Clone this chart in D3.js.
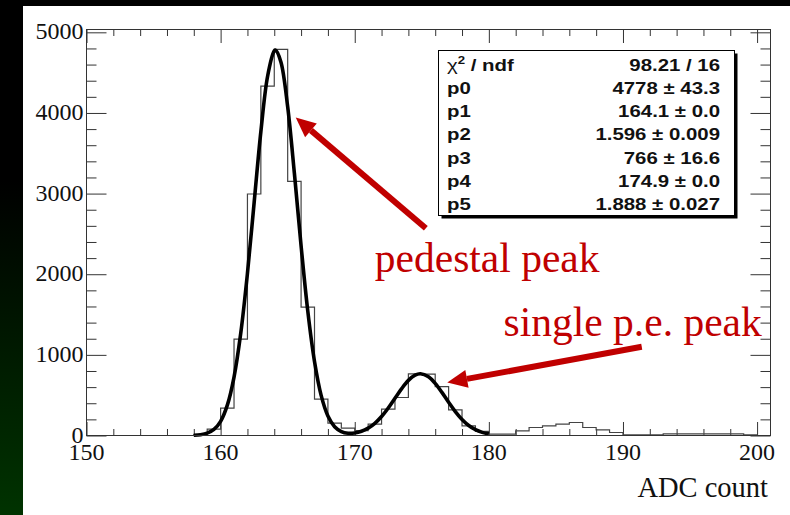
<!DOCTYPE html>
<html>
<head>
<meta charset="utf-8">
<script src="https://cdn.jsdelivr.net/npm/d3@7"></script>
<style>
  html, body { margin: 0; padding: 0; background: #000; }
  svg { display: block; }
</style>
</head>
<body>
<svg id="chart" width="790" height="515"></svg>
<script>
// ---------------- data ----------------
const binLow = 150;              // first bin low edge, bin width 1
const binCounts = [
  0, 0, 0, 0, 0, 0, 0, 0,        // 150-157
  10, 79, 340, 1195, 2995, 4333, 4788, 3152, 1591, 451,   // 158-167
  154, 92, 60, 140, 327, 471, 765, 760, 607, 318,          // 168-177
  120, 50, 17, 17, 58, 99, 120, 141, 161, 99,              // 178-187
  70, 37, 8, 8, 8, 20, 20, 20, 20, 20,                     // 188-197
  20, 8, 0                                                 // 198-200
];
const fitX = [158, 158.5, 159, 159.5, 160, 160.5, 161, 161.5, 162, 162.5,
  163, 163.5, 164, 164.1, 164.5, 165, 165.5, 166, 166.5, 167, 167.5, 168,
  168.5, 169, 169.5, 170, 170.5, 171, 171.5, 172, 172.5, 173, 173.5, 174,
  174.5, 174.9, 175.5, 176, 176.5, 177, 177.5, 178, 178.5, 179, 179.5, 180];
const fitY = [3, 10, 29, 75, 176, 376, 725, 1268, 2010, 2890,
  3767, 4452, 4769, 4778, 4630, 4076, 3252, 2352, 1542, 917, 494, 242,
  109, 49, 28, 32, 52, 91, 151, 235, 341, 462, 582, 684,
  749, 766, 728, 646, 535, 413, 297, 199, 124, 72, 39, 20];
const xTickValues = [150, 160, 170, 180, 190, 200];
const xTickLabels = ["150", "160", "170", "180", "190", "200"];
const yTickValues = [0, 1000, 2000, 3000, 4000, 5000];
const yTickLabels = ["0", "1000", "2000", "3000", "4000", "5000"];
const xTitle = "ADC count";
const statNames = ["χ2 / ndf", "p0", "p1", "p2", "p3", "p4", "p5"];
const statValues = ["98.21 / 16", "4778 ± 43.3", "164.1 ± 0.0", "1.596 ± 0.009",
  "766 ± 16.6", "174.9 ± 0.0", "1.888 ± 0.027"];
const annoLabels = ["pedestal peak", "single p.e. peak"];
const annoTextAt = [[171.5, 2030], [181.1, 1230]];
const arrowTail = [[175.3, 2570], [191.4, 1100]];
const arrowTip = [[165.6, 3945], [176.9, 657]];

// ---------------- drawing ----------------
const svg = d3.select("#chart");
const W = 790, H = 515;
const red = "#c00000";

const defs = svg.append("defs");
const grad = defs.append("linearGradient").attr("id", "lg")
  .attr("x1", 0).attr("y1", 0).attr("x2", 0).attr("y2", 1);
grad.append("stop").attr("offset", "0.35").attr("stop-color", "#000000");
grad.append("stop").attr("offset", "1").attr("stop-color", "#003300");

svg.append("rect").attr("x", 0).attr("y", 0).attr("width", W).attr("height", H).attr("fill", "#000");
svg.append("rect").attr("x", 0).attr("y", 0).attr("width", 23).attr("height", H).attr("fill", "url(#lg)");
svg.append("rect").attr("x", 23).attr("y", 6).attr("width", W - 23).attr("height", H - 6).attr("fill", "#fff");

const x = d3.scaleLinear().domain([150, 201]).range([86.5, 770.5]);
const y = d3.scaleLinear().domain([0, 5035]).range([435.5, 29.5]);

const axisCol = "#333";
const g = svg.append("g");

// ticks (inside) on all four sides
const xMinor = d3.range(150, 201, 2).filter(v => !xTickValues.includes(v));
const yMinor = d3.range(0, 5001, 200).filter(v => !yTickValues.includes(v));

function tickLines(axisFn, scale, values, size, tr) {
  const a = axisFn(scale).tickValues(values).tickSize(size).tickFormat("");
  const gg = g.append("g").attr("transform", tr).call(a);
  gg.select(".domain").remove();
  gg.selectAll("line").attr("stroke", axisCol).attr("stroke-width", 1);
}
tickLines(d3.axisBottom, x, xTickValues, -13.5, `translate(0,${y(0)})`);
tickLines(d3.axisBottom, x, xMinor, -6.5, `translate(0,${y(0)})`);
tickLines(d3.axisTop, x, xTickValues, -13.5, `translate(0,${y.range()[1]})`);
tickLines(d3.axisTop, x, xMinor, -6.5, `translate(0,${y.range()[1]})`);
tickLines(d3.axisLeft, y, yTickValues, -20, `translate(${x(150)},0)`);
tickLines(d3.axisLeft, y, yMinor, -10, `translate(${x(150)},0)`);
tickLines(d3.axisRight, y, yTickValues, -20, `translate(${x(201)},0)`);
tickLines(d3.axisRight, y, yMinor, -10, `translate(${x(201)},0)`);

// histogram
const histPts = binCounts.map((c, i) => [binLow + i, c]);
histPts.push([binLow + binCounts.length, binCounts[binCounts.length - 1]]);
g.append("path")
  .attr("d", d3.line().x(d => x(d[0])).y(d => y(d[1])).curve(d3.curveStepAfter)(histPts))
  .attr("fill", "none").attr("stroke", "#444").attr("stroke-width", 1.2);

// fit curve
const fitPts = fitX.map((v, i) => [v, fitY[i]]);
g.append("path")
  .attr("d", d3.line().x(d => x(d[0])).y(d => y(d[1])).curve(d3.curveCatmullRom)(fitPts))
  .attr("fill", "none").attr("stroke", "#000").attr("stroke-width", 3.6)
  .attr("stroke-linejoin", "round");

// frame
g.append("rect")
  .attr("x", x(150)).attr("y", y.range()[1])
  .attr("width", x(201) - x(150)).attr("height", y(0) - y.range()[1])
  .attr("fill", "none").attr("stroke", axisCol).attr("stroke-width", 1);

// tick labels
const serif = "'Liberation Serif', 'Times New Roman', serif";
g.selectAll(".xl").data(xTickValues).enter().append("text")
  .attr("x", d => x(d)).attr("y", 459.5)
  .attr("text-anchor", "middle").attr("font-family", serif).attr("font-size", 24)
  .attr("fill", "#111").text((d, i) => xTickLabels[i]);
g.selectAll(".yl").data(yTickValues).enter().append("text")
  .attr("x", 83.5).attr("y", d => y(d) + 7)
  .attr("text-anchor", "end").attr("font-family", serif).attr("font-size", 24)
  .attr("fill", "#111").text((d, i) => yTickLabels[i]);
g.append("text").attr("x", 768).attr("y", 496.5)
  .attr("text-anchor", "end").attr("font-family", serif).attr("font-size", 28.5)
  .attr("fill", "#111").text(xTitle);

// stats box
const bx = 438.5, by = 50.5, bw = 296, bh = 165;
g.append("rect").attr("x", bx + 3).attr("y", by + 3).attr("width", bw).attr("height", bh).attr("fill", "#000");
g.append("rect").attr("x", bx).attr("y", by).attr("width", bw).attr("height", bh)
  .attr("fill", "#fff").attr("stroke", "#000").attr("stroke-width", 1);
const sans = "'Liberation Sans', Arial, sans-serif";
const sx = 1.2;
statNames.forEach((nm, i) => {
  const base = 70.5 + 23.3 * i;
  const tl = g.append("text")
    .attr("transform", `translate(447,${base}) scale(${sx},1)`)
    .attr("font-family", sans).attr("font-size", 17).attr("font-weight", "bold").attr("fill", "#111");
  if (nm.startsWith("χ2")) {
    tl.append("tspan").attr("font-weight", "normal").text("χ");
    tl.append("tspan").attr("font-size", 11).attr("dy", -7).text("2");
    tl.append("tspan").attr("dy", 7).text(nm.slice(2));
  } else {
    tl.text(nm);
  }
  g.append("text")
    .attr("transform", `translate(720,${base}) scale(${sx},1)`)
    .attr("text-anchor", "end")
    .attr("font-family", sans).attr("font-size", 17).attr("font-weight", "bold").attr("fill", "#111")
    .text(statValues[i]);
});

// annotations
annoLabels.forEach((lab, i) => {
  g.append("text").attr("x", x(annoTextAt[i][0])).attr("y", y(annoTextAt[i][1]))
    .attr("font-family", serif).attr("font-size", 41.5).attr("fill", red).text(lab);
  const x0 = x(arrowTail[i][0]), y0 = y(arrowTail[i][1]);
  const x1 = x(arrowTip[i][0]), y1 = y(arrowTip[i][1]);
  const ang = Math.atan2(y1 - y0, x1 - x0);
  const hl = 20, hw = 9;
  const bxp = x1 - hl * Math.cos(ang), byp = y1 - hl * Math.sin(ang);
  g.append("line").attr("x1", x0).attr("y1", y0).attr("x2", bxp).attr("y2", byp)
    .attr("stroke", red).attr("stroke-width", 6);
  const px = -Math.sin(ang), py = Math.cos(ang);
  g.append("path")
    .attr("d", `M${x1},${y1}L${bxp + hw * px},${byp + hw * py}L${bxp - hw * px},${byp - hw * py}Z`)
    .attr("fill", red);
});
</script>
</body>
</html>
